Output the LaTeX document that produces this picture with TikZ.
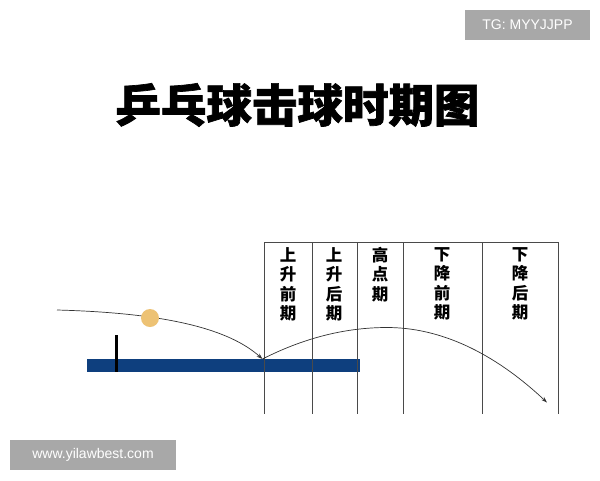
\documentclass[tikz,border=0pt]{standalone}
\usepackage{fontspec}
\setmainfont{Liberation Sans}
\newfontfamily\cjk{Noto Sans CJK SC}
\newfontfamily\cjkt{Noto Sans CJK SC}[BoldFeatures={FakeBold=1.5}]
\usetikzlibrary{arrows.meta}
\definecolor{wmgray}{HTML}{A8A8A8}
\definecolor{tableblue}{HTML}{0E3F7E}
\definecolor{ballc}{HTML}{EDC274}
\definecolor{gridc}{HTML}{4A4A4A}
\tikzset{
  wm/.style={fill=wmgray, text=white, font=\fontsize{14}{16}\selectfont, inner sep=0pt, minimum height=30pt},
  colline/.style={draw=gridc, line width=0.9pt},
  collabel/.style={anchor=north, align=center, inner sep=0pt, font=\cjk\bfseries\fontsize{16.5}{19.5}\selectfont},
  traj/.style={draw=black!80, line width=0.7pt},
  arr/.style={-{Stealth[length=6pt,width=4pt]}}
}
\begin{document}
\begin{tikzpicture}[x=1pt,y=-1pt]
\useasboundingbox (0,0) rectangle (600,480);
\fill[white] (0,0) rectangle (600,480);
% watermarks
\node[wm, minimum width=125pt] (tg) at (527.5,25) {TG: MYYJJPP};
\node[wm, minimum width=166pt] (www) at (93,455) {www.yilawbest.com};
% title
\node[font=\cjkt\bfseries\fontsize{45.5}{48}\selectfont, inner sep=0pt] (title) at (297.5,105) {乒乓球击球时期图};
% table
\fill[tableblue] (87,358.5) rectangle (360,371.5);
% net
\draw[black, line width=3pt] (116.5,335) -- (116.5,371.5);
% column lines
\foreach \x/\n in {264/a,312/b,357/c,403.5/d,482/e,558/f}{
  \coordinate (t\n) at (\x,242);
  \coordinate (b\n) at (\x,414);
  \draw[colline] (t\n) -- (b\n);
}
\draw[colline] (ta) -- (tf);
% labels
\node[collabel] (l1) at (288,247) {上\\升\\前\\期};
\node[collabel] (l2) at (334,247) {上\\升\\后\\期};
\node[collabel] (l3) at (380,247) {高\\点\\期};
\node[collabel] (l4) at (442,247) {下\\降\\前\\期};
\node[collabel] (l5) at (520,247) {下\\降\\后\\期};
% trajectories
\coordinate (s) at (57,310);
\coordinate (bounce) at (262.5,359);
\coordinate (peak) at (387,327.5);
\coordinate (land) at (547,402.5);
\draw[traj, arr] (s) .. controls (170,313) and (230,330) .. (bounce);
\draw[traj, arr] (bounce) .. controls (303.8,338) and (345.3,327.5) .. (peak) .. controls (440.3,327.5) and (493.7,352.5) .. (land);
% ball
\node[circle, fill=ballc, minimum size=18pt, inner sep=0pt] (ball) at (150,318) {};
\end{tikzpicture}
\end{document}
